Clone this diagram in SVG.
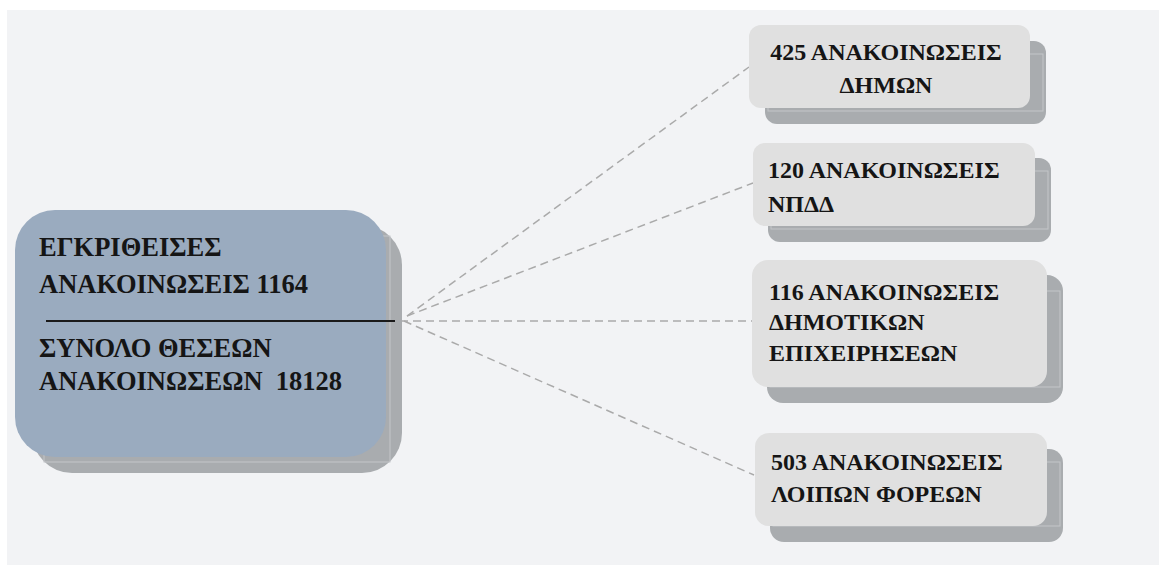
<svg xmlns="http://www.w3.org/2000/svg" width="1166" height="574" viewBox="0 0 1166 574">
<style>
.bg{fill:#f2f3f5}
.sh{fill:#a9acaf}
.inner{fill:none;stroke:#c4c6c9;stroke-width:1}
.main{fill:#9aabbf}
.box{fill:#e0e0e0}
.t{font-family:"Liberation Serif","Times New Roman",serif;font-weight:bold;fill:#151515}
.tm{font-size:26.5px}
.tr{font-size:24px}
.con{stroke:#aaaaaa;stroke-width:1.5;stroke-dasharray:8,5;fill:none}
</style>
<rect class="bg" x="7" y="10" width="1152" height="555"/>
<g id="connectors">
<line class="con" x1="407" y1="316" x2="749" y2="67"/>
<line class="con" x1="407" y1="316" x2="753" y2="183"/>
<line class="con" x1="400" y1="321" x2="752" y2="321"/>
<line class="con" x1="404" y1="321" x2="754" y2="475"/>
</g>
<g id="main">
<rect class="sh" x="32" y="225" width="370" height="248" rx="40"/>
<rect class="inner" x="44" y="236" width="346" height="226"/>
<rect class="main" x="15" y="210" width="371" height="247" rx="40"/>
<line x1="46" y1="321" x2="395" y2="321" stroke="#1a1a1a" stroke-width="2"/>
<text class="t tm" x="39" y="256">ΕΓΚΡΙΘΕΙΣΕΣ</text>
<text class="t tm" x="39" y="293">ΑΝΑΚΟΙΝΩΣΕΙΣ 1164</text>
<text class="t tm" x="39" y="357">ΣΥΝΟΛΟ ΘΕΣΕΩΝ</text>
<text class="t tm" x="39" y="390" xml:space="preserve">ΑΝΑΚΟΙΝΩΣΕΩΝ  18128</text>
</g>
<g id="n1">
<rect class="sh" x="765" y="41" width="281" height="83" rx="12"/>
<rect class="inner" x="768" y="54" width="275" height="57"/>
<rect class="box" x="749" y="25" width="281" height="83" rx="12"/>
<text class="t tr" x="886" y="60" text-anchor="middle">425 ΑΝΑΚΟΙΝΩΣΕΙΣ</text>
<text class="t tr" x="886" y="93" text-anchor="middle">ΔΗΜΩΝ</text>
</g>
<g id="n2">
<rect class="sh" x="768" y="158" width="283" height="84" rx="12"/>
<rect class="inner" x="771" y="171" width="277" height="58"/>
<rect class="box" x="753" y="143" width="282" height="83" rx="12"/>
<text class="t tr" x="768" y="178">120 ΑΝΑΚΟΙΝΩΣΕΙΣ</text>
<text class="t tr" x="768" y="212">ΝΠΔΔ</text>
</g>
<g id="n3">
<rect class="sh" x="767" y="275" width="296" height="128" rx="16"/>
<rect class="inner" x="770" y="291" width="290" height="96"/>
<rect class="box" x="752" y="260" width="295" height="127" rx="16"/>
<text class="t tr" x="769" y="300">116 ΑΝΑΚΟΙΝΩΣΕΙΣ</text>
<text class="t tr" x="769" y="330">ΔΗΜΟΤΙΚΩΝ</text>
<text class="t tr" x="769" y="361">ΕΠΙΧΕΙΡΗΣΕΩΝ</text>
</g>
<g id="n4">
<rect class="sh" x="770" y="449" width="293" height="93" rx="14"/>
<rect class="inner" x="773" y="462" width="287" height="64"/>
<rect class="box" x="755" y="433" width="292" height="93" rx="14"/>
<text class="t tr" x="771" y="470">503 ΑΝΑΚΟΙΝΩΣΕΙΣ</text>
<text class="t tr" x="771" y="502">ΛΟΙΠΩΝ ΦΟΡΕΩΝ</text>
</g>
</svg>
